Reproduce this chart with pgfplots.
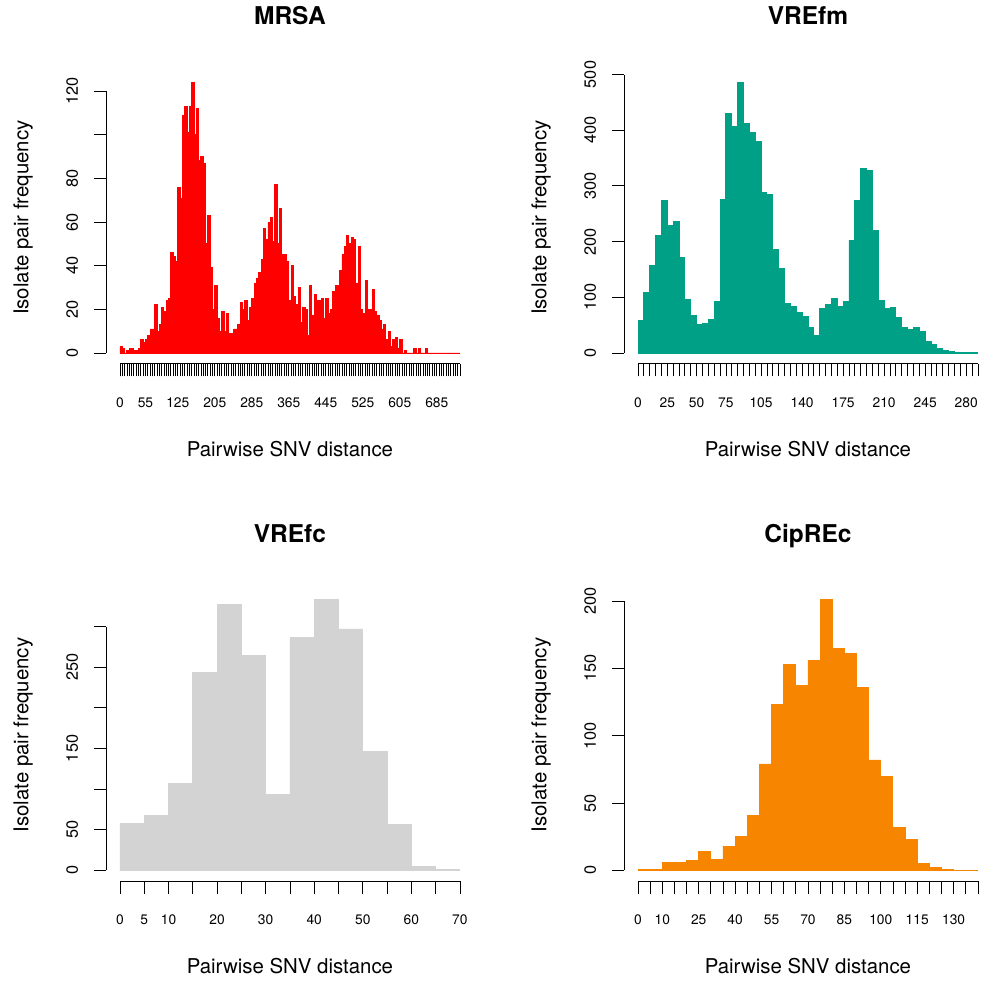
\documentclass[border=0pt]{standalone}
\usepackage{pgfplots}
\pgfplotsset{compat=1.18}
\usepackage{pgfplotstable}
\usepackage{fontspec}
\setmainfont{TeX Gyre Heros}
\definecolor{mrsacol}{HTML}{FF0000}
\definecolor{vrefmcol}{HTML}{00A087}
\definecolor{vrefccol}{HTML}{D3D3D3}
\definecolor{ciprcol}{HTML}{F78500}

% counts per 5-unit bin (last row = closing endpoint for ybar interval)
\pgfplotstableread[row sep=\\]{y\\
3\\2\\0\\1\\2\\2\\1\\1\\2\\6\\
5\\6\\8\\11\\11\\22\\10\\13\\21\\19\\
24\\25\\46\\44\\42\\76\\71\\109\\113\\101\\
113\\124\\100\\112\\88\\90\\87\\50\\63\\39\\
20\\31\\16\\10\\19\\10\\18\\9\\9\\11\\
11\\13\\23\\20\\24\\15\\21\\25\\32\\34\\
37\\43\\57\\52\\60\\62\\51\\77\\50\\66\\
45\\45\\42\\24\\40\\26\\22\\30\\14\\21\\
20\\8\\31\\17\\27\\24\\24\\25\\16\\25\\
18\\20\\28\\31\\31\\38\\45\\49\\54\\50\\
53\\52\\32\\49\\20\\18\\33\\20\\20\\29\\
19\\17\\15\\11\\13\\6\\10\\3\\6\\7\\
2\\6\\0\\1\\0\\0\\0\\2\\0\\2\\
0\\0\\2\\0\\0\\0\\0\\0\\0\\0\\
0\\0\\0\\0\\0\\0\\0\\
0\\}\mrsa

\pgfplotstableread[row sep=\\]{y\\
59\\109\\157\\211\\274\\229\\236\\172\\96\\68\\
52\\53\\60\\93\\276\\430\\407\\486\\412\\396\\
380\\288\\285\\186\\152\\89\\84\\73\\66\\46\\
32\\80\\87\\98\\84\\93\\202\\274\\331\\328\\
220\\94\\80\\82\\64\\46\\42\\46\\39\\21\\
16\\8\\5\\2\\1\\1\\1\\1\\
0\\}\vrefm

\pgfplotstableread[row sep=\\]{y\\
58\\67\\107\\243\\327\\264\\93\\286\\333\\297\\146\\56\\5\\1\\
0\\}\vrefc

\pgfplotstableread[row sep=\\]{y\\
1\\1\\6\\6\\7\\14\\8\\18\\25\\41\\
79\\123\\153\\137\\156\\201\\165\\161\\136\\82\\
70\\32\\23\\5\\2\\1\\0\\0\\
0\\}\cipr

\pgfplotsset{
  rhist/.style={
    scale only axis, width=367.1pt, height=292.3pt,
    anchor=south west,
    axis x line*=bottom, axis y line*=left,
    axis line style={draw=none},
    tick align=outside,
    major tick length=12.7pt, minor tick length=12.7pt,
    every tick/.style={black, line width=0.8pt},
    minor tick style={black, line width=0.8pt},
    major tick style={black, line width=0.8pt},
    /pgf/number format/assume math mode=true,
    xticklabel style={font=\fontsize{13.8}{15}\selectfont, inner sep=0pt, anchor=north},
    yticklabel style={font=\fontsize{16.3}{18}\selectfont, inner sep=0pt, rotate=90, anchor=south},
    xticklabel shift=20.8pt,
    yticklabel shift=15.4pt,
    xlabel={Pairwise SNV distance}, ylabel={Isolate pair frequency},
    label style={font=\fontsize{20.4}{22}\selectfont, inner sep=0pt},
    xlabel style={at={([yshift=-92.7pt]axis description cs:0.5,0)}, anchor=base},
    ylabel style={at={([xshift=-78.1pt]axis description cs:0,0.5)}, anchor=base},
    title style={at={([yshift=40.8pt]axis description cs:0.5,1)}, anchor=base, inner sep=0pt,
      font=\bfseries\fontsize{24.5}{26}\selectfont},
    clip=false,
  },
}

\begin{document}
\begin{tikzpicture}
\useasboundingbox (0,0) rectangle (981pt,983pt);

% MRSA
\begin{axis}[rhist, at={(106.4pt,619.2pt)}, title={MRSA},
  xmin=-29.4, xmax=764.4, ymin=-4.96, ymax=128.96,
  xtick={0,55,125,205,285,365,445,525,605,685}, minor xtick={0,5,...,735},
  ytick={0,20,40,60,80,120}, minor ytick={100}]
\addplot[ybar interval, fill=mrsacol, draw=mrsacol, line width=0.9pt] table[x expr=5*\coordindex, y=y] {\mrsa};
\draw[line width=1pt] (axis cs:0,-4.96) -- (axis cs:735,-4.96);
\draw[line width=1pt] (axis cs:-29.4,0) -- (axis cs:-29.4,120);
\end{axis}

% VREfm
\begin{axis}[rhist, at={(624.4pt,619.2pt)}, title={VREfm},
  xmin=-11.6, xmax=301.6, ymin=-19.44, ymax=505.44,
  xtick={0,25,50,75,105,140,175,210,245,280}, minor xtick={0,5,...,290},
  ytick={0,100,...,500}]
\addplot[ybar interval, fill=vrefmcol, draw=vrefmcol, line width=0.9pt] table[x expr=5*\coordindex, y=y] {\vrefm};
\draw[line width=1pt] (axis cs:0,-19.44) -- (axis cs:290,-19.44);
\draw[line width=1pt] (axis cs:-11.6,0) -- (axis cs:-11.6,500);
\end{axis}

% VREfc
\begin{axis}[rhist, at={(106.4pt,101.8pt)}, title={VREfc},
  xmin=-2.8, xmax=72.8, ymin=-13.32, ymax=346.32,
  xtick={0,5,10,20,30,40,50,60,70}, minor xtick={0,5,...,70},
  ytick={0,50,150,250}, minor ytick={100,200,300}]
\addplot[ybar interval, fill=vrefccol, draw=vrefccol, line width=0.9pt] table[x expr=5*\coordindex, y=y] {\vrefc};
\draw[line width=1pt] (axis cs:0,-13.32) -- (axis cs:70,-13.32);
\draw[line width=1pt] (axis cs:-2.8,0) -- (axis cs:-2.8,300);
\end{axis}

% CipREc
\begin{axis}[rhist, at={(624.4pt,101.8pt)}, title={CipREc},
  xmin=-5.6, xmax=145.6, ymin=-8.04, ymax=209.04,
  xtick={0,10,25,40,55,70,85,100,115,130}, minor xtick={0,5,...,140},
  ytick={0,50,...,200}]
\addplot[ybar interval, fill=ciprcol, draw=ciprcol, line width=0.9pt] table[x expr=5*\coordindex, y=y] {\cipr};
\draw[line width=1pt] (axis cs:0,-8.04) -- (axis cs:140,-8.04);
\draw[line width=1pt] (axis cs:-5.6,0) -- (axis cs:-5.6,200);
\end{axis}
\end{tikzpicture}
\end{document}
